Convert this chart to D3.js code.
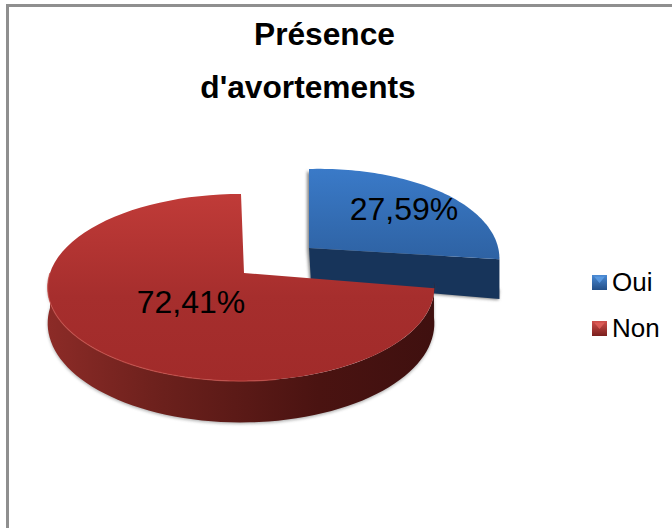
<!DOCTYPE html>
<html><head><meta charset="utf-8">
<script src="https://cdn.jsdelivr.net/npm/d3@7"></script>
<style>html,body{margin:0;padding:0;background:#fff}svg{display:block}text{font-family:"Liberation Sans",Arial,sans-serif;fill:#000}</style>
</head><body><svg id="c" width="672" height="528"></svg>
<script>
const categories = ["Oui", "Non"];
const values = [27.59, 72.41];
const valueLabels = ["27,59%", "72,41%"];
const titleLines = ["Présence", "d'avortements"];

const svg = d3.select("#c");
const defs = svg.append("defs");

function grad(id, x2, y2, stops) {
  const g = defs.append("linearGradient").attr("id", id)
    .attr("x1", 0).attr("y1", 0).attr("x2", x2).attr("y2", y2);
  stops.forEach(s => g.append("stop").attr("offset", s[0]).attr("stop-color", s[1]));
}
grad("blueTop", 0, 1, [[0, "#3a7ac8"], [1, "#2e62a3"]]);
grad("redTop", 0, 1, [[0, "#c03b38"], [0.55, "#a62e2d"], [1, "#a12b2a"]]);
grad("redWall", 1, 0, [[0, "#8c2b27"], [0.3, "#6b201c"], [0.7, "#4a1311"], [1, "#3f100f"]]);
grad("blueLeg", 0, 1, [[0, "#4a8ad4"], [1, "#234f88"]]);
grad("redLeg", 0, 1, [[0, "#d0504c"], [1, "#7a1f1d"]]);
defs.append("filter").attr("id", "soft").attr("x", "-5%").attr("y", "-5%").attr("width", "110%").attr("height", "110%")
  .append("feGaussianBlur").attr("stdDeviation", 0.7);
defs.append("filter").attr("id", "shadow").attr("x", "-5%").attr("y", "-5%").attr("width", "110%").attr("height", "110%")
  .append("feGaussianBlur").attr("stdDeviation", 1.4);

// frame: top and left edges only
svg.append("rect").attr("x", 6).attr("y", 4).attr("width", 666).attr("height", 3).attr("fill", "#8f8f8f");
svg.append("rect").attr("x", 6).attr("y", 4).attr("width", 3).attr("height", 524).attr("fill", "#8f8f8f");

// perspective projection of the pie disc
const k = 0.155, Ry = 91.3, Rx = 191, depth = 35;
function proj(a, r, ox, oy, down, sx = 1, tilt = 0) {
  const u = Math.sin(a) * r, v = -Math.cos(a) * r, w = 1 - k * v;
  return [ox + sx * Rx * u / w, oy + Ry * v / w + tilt * u + (down ? depth / w : 0)];
}
const pie = d3.pie().sort(null).value(d => d)(values);
const offsets = [[68, -25], [0, 0]];
const cx = 241, cy = 273;
const line = d3.line();
function arcPts(a0, a1, ox, oy, down, sx, tilt) {
  return d3.range(0, 73).map(i => proj(a0 + (a1 - a0) * i / 72, 1, ox, oy, down, sx, tilt));
}

// blue slice
{
  const s = pie[0], ox = cx + offsets[0][0], oy = cy + offsets[0][1], sx = 0.985, tilt = -4;
  const top = arcPts(s.startAngle, s.endAngle, ox, oy, false, sx, tilt);
  const endTop = top[top.length - 1];
  const apexB = proj(0, 0, ox + 2, oy, true), endB = proj(s.endAngle, 1, ox, oy, true, sx, 0);
  svg.append("path").attr("d", line([[ox - 1, oy - 78], [ox - 1, oy], apexB, endB, [endB[0] + 1, endB[1] - 10]]) + "Z")
    .attr("fill", "#888").attr("filter", "url(#shadow)").attr("transform", "translate(-1,1)");
  svg.append("path").attr("d", line([[ox, oy], endTop, [endTop[0], endB[1] - 2], endB, apexB]) + "Z").attr("fill", "#17345a");
  svg.append("path").attr("d", line([[ox, oy], ...top]) + "Z").attr("fill", "url(#blueTop)");
}

// red slice
{
  const s = pie[1], ox = cx + offsets[1][0], oy = cy + offsets[1][1];
  const top = arcPts(s.startAngle, s.endAngle, ox, oy, false);
  const wallStart = Math.PI * 0.53, wallEnd = Math.PI * 1.5;
  const wt = arcPts(wallStart, wallEnd, ox, oy, false);
  const wb = arcPts(wallStart, wallEnd, ox, oy, true);
  const wallD = line([...wt, ...wb.slice().reverse()]) + "Z";
  svg.append("path").attr("d", wallD).attr("fill", "#777").attr("opacity", 0.55).attr("filter", "url(#shadow)").attr("transform", "translate(0,1.5)");
  svg.append("path").attr("d", wallD).attr("fill", "url(#redWall)");
  svg.append("path").attr("d", line([[ox + 3, oy], ...top]) + "Z").attr("fill", "url(#redTop)");
  // bevel highlight along the front rim
  svg.append("path").attr("d", line(arcPts(Math.PI * 0.95, Math.PI * 1.5, ox, oy, false)))
    .attr("fill", "none").attr("stroke", "#c9534e").attr("stroke-width", 1.2).attr("opacity", 0.7).attr("filter", "url(#soft)");
}

// value labels
svg.selectAll("text.val").data(valueLabels).join("text").attr("class", "val")
  .attr("x", (d, i) => [404, 191][i]).attr("y", (d, i) => [220, 313][i])
  .attr("text-anchor", "middle").attr("font-size", 32).text(d => d);

// title
svg.selectAll("text.title").data(titleLines).join("text").attr("class", "title")
  .attr("x", (d, i) => [324.5, 308][i]).attr("y", (d, i) => [45, 98][i])
  .attr("text-anchor", "middle").attr("font-size", 31.7).attr("font-weight", "bold").text(d => d);

// legend
const leg = svg.selectAll("g.leg").data(categories).join("g").attr("class", "leg")
  .attr("transform", (d, i) => `translate(592,${[275, 321][i]})`);
leg.append("rect").attr("width", 15).attr("height", 15)
  .attr("fill", (d, i) => `url(#${["blueLeg", "redLeg"][i]})`);
leg.append("path").attr("d", "M2,1.5L13,1.5L7.5,8Z")
  .attr("fill", (d, i) => ["#5f9fe6", "#e2625c"][i]).attr("opacity", 0.8);
leg.append("text").attr("x", 20).attr("y", 16).attr("font-size", 26).text(d => d);
</script></body></html>
